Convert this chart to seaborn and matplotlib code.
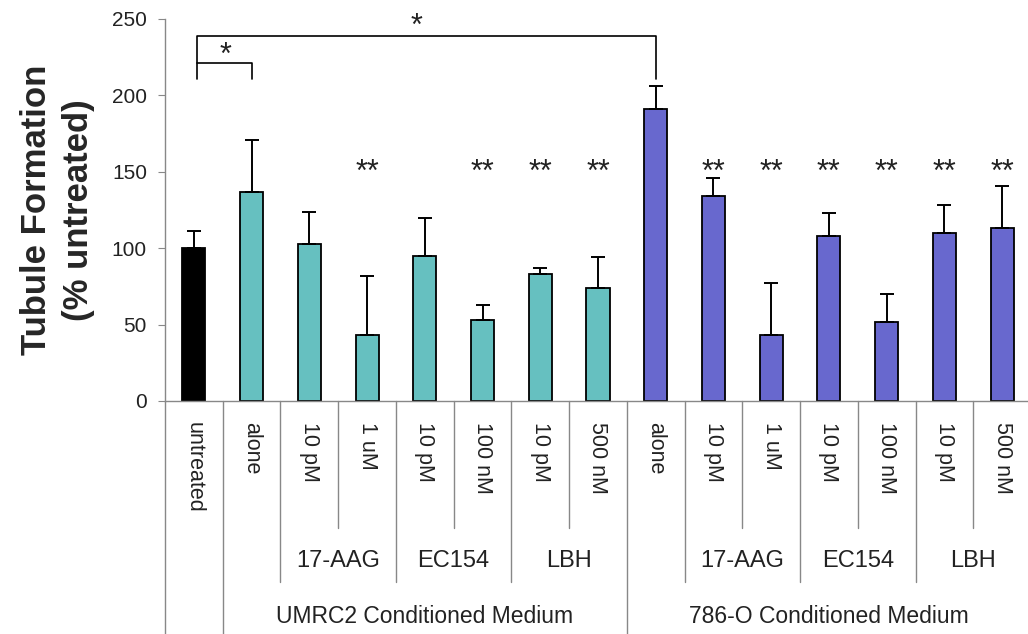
import pandas as pd
import matplotlib.pyplot as plt
import seaborn as sns

# bar data
conditions = ["untreated",
              "U alone", "U 17-AAG 10 pM", "U 17-AAG 1 uM", "U EC154 10 pM",
              "U EC154 100 nM", "U LBH 10 pM", "U LBH 500 nM",
              "O alone", "O 17-AAG 10 pM", "O 17-AAG 1 uM", "O EC154 10 pM",
              "O EC154 100 nM", "O LBH 10 pM", "O LBH 500 nM"]
values = [100, 137, 103, 43, 95, 53, 83, 74, 191, 134, 43, 108, 52, 110, 113]
errors = [11, 34, 21, 39, 25, 10, 4, 20, 15, 12, 34, 15, 18, 18, 28]
bar_colors = ["#000000"] + ["#66C0C0"] * 7 + ["#6868CE"] * 7

# axis labels, three levels
dose_labels = ["untreated", "alone", "10 pM", "1 uM", "10 pM", "100 nM", "10 pM", "500 nM",
               "alone", "10 pM", "1 uM", "10 pM", "100 nM", "10 pM", "500 nM"]
drug_labels = ["17-AAG", "EC154", "LBH", "17-AAG", "EC154", "LBH"]
drug_centers = [2.5, 4.5, 6.5, 9.5, 11.5, 13.5]
medium_labels = ["UMRC2 Conditioned Medium", "786-O Conditioned Medium"]
medium_centers = [4.0, 11.0]

# significance marks
double_star_pos = [3, 5, 6, 7, 9, 10, 11, 12, 13, 14]

df = pd.DataFrame({"condition": conditions, "value": values})

sns.set_style("white")
plt.rcParams["font.family"] = ["Liberation Sans", "DejaVu Sans"]

fig = plt.figure(figsize=(10.28, 6.34), dpi=100)
ax = fig.add_axes([165 / 1028, (634 - 401) / 634, 866 / 1028, 382 / 634])

sns.barplot(data=df, x="condition", y="value", hue="condition", order=conditions,
            palette=bar_colors, legend=False, width=0.4, edgecolor="black",
            linewidth=1.3, ax=ax, saturation=1)
ax.errorbar(range(len(values)), values, yerr=[[0] * len(values), errors],
            fmt="none", ecolor="black", elinewidth=1.4, capsize=5, capthick=1.4)

ax.set_xlim(-0.5, 14.5)
ax.set_ylim(0, 250)
ax.set_yticks(range(0, 251, 50))
ax.set_xticks([])
ax.set_xlabel("")
ax.set_ylabel("Tubule Formation\n(% untreated)", fontsize=25, fontweight="bold",
              labelpad=12, linespacing=1.35)
ax.tick_params(axis="y", left=True, length=5, pad=8, color="#888888", labelsize=15,
               labelcolor="#222222")
for s in ["top", "right"]:
    ax.spines[s].set_visible(False)
for s in ["left", "bottom"]:
    ax.spines[s].set_color("#888888")
    ax.spines[s].set_linewidth(1.0)

trans = ax.get_xaxis_transform()

# category table lines below the axis
level_depth = {1: -0.332, 2: -0.474, 3: -0.62}
separators = [(-0.5, 3), (0.5, 3), (1.5, 2), (2.5, 1), (3.5, 2), (4.5, 1), (5.5, 2),
              (6.5, 1), (7.5, 3), (8.5, 2), (9.5, 1), (10.5, 2), (11.5, 1),
              (12.5, 2), (13.5, 1)]
for xs, lvl in separators:
    ax.plot([xs, xs], [0, level_depth[lvl]], transform=trans, color="#888888",
            lw=1.0, clip_on=False)

for i, lab in enumerate(dose_labels):
    ax.text(i, -0.055, lab, transform=trans, rotation=270, ha="center", va="top",
            fontsize=15.5, color="#222222")
for c, lab in zip(drug_centers, drug_labels):
    ax.text(c, -0.42, lab, transform=trans, ha="center", va="center",
            fontsize=17, color="#222222")
for c, lab in zip(medium_centers, medium_labels):
    ax.text(c, -0.565, lab, transform=trans, ha="center", va="center",
            fontsize=16.5, color="#222222")

# significance brackets
ax.plot([0.05, 0.05, 8, 8], [211, 239, 239, 211], color="black", lw=1.2, clip_on=False)
ax.plot([0.05, 1, 1], [221, 221, 211], color="black", lw=1.2, clip_on=False)
ax.text(0.55, 226, "*", ha="center", va="center", fontsize=22, color="#222222")
ax.text(3.85, 245, "*", ha="center", va="center", fontsize=22, color="#222222")
for p in double_star_pos:
    ax.text(p, 149, "**", ha="center", va="center", fontsize=22, color="#222222")

fig.savefig("out.png", dpi=100)
